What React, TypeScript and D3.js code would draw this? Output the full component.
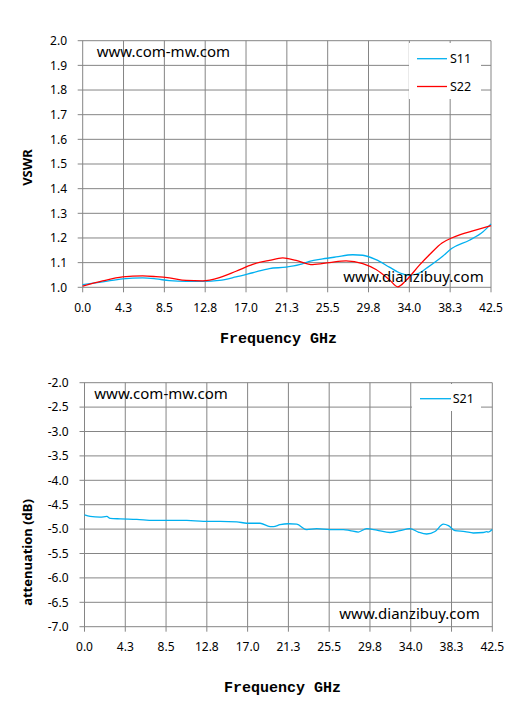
import React from "react";
import * as d3 from "d3";

// ---------- data ----------
const X_TICKS = [0, 4.25, 8.5, 12.75, 17, 21.25, 25.5, 29.75, 34, 38.25, 42.5];
const X_TICK_LABELS = ["0.0", "4.3", "8.5", "12.8", "17.0", "21.3", "25.5", "29.8", "34.0", "38.3", "42.5"];

const VSWR_TICKS = [1.0, 1.1, 1.2, 1.3, 1.4, 1.5, 1.6, 1.7, 1.8, 1.9, 2.0];
const VSWR_TICK_LABELS = ["1.0", "1.1", "1.2", "1.3", "1.4", "1.5", "1.6", "1.7", "1.8", "1.9", "2.0"];

const ATT_TICKS = [-2.0, -2.5, -3.0, -3.5, -4.0, -4.5, -5.0, -5.5, -6.0, -6.5, -7.0];
const ATT_TICK_LABELS = ["-2.0", "-2.5", "-3.0", "-3.5", "-4.0", "-4.5", "-5.0", "-5.5", "-6.0", "-6.5", "-7.0"];

const S11_FREQ = [0, 2.08, 4.16, 6.25, 7.63, 9.02, 10.76, 12.49, 14.23, 15.96, 17.7, 19.43, 21.17, 22.55, 23.59, 24.98, 26.37, 28.11, 29.15, 30.53, 31.92, 32.96, 34.0, 35.05, 35.8, 37.47, 38.4, 40.25, 41.64, 42.5];
const S11_VSWR = [1.011, 1.022, 1.034, 1.038, 1.034, 1.027, 1.024, 1.024, 1.028, 1.042, 1.059, 1.076, 1.082, 1.092, 1.105, 1.115, 1.123, 1.132, 1.13, 1.112, 1.082, 1.059, 1.049, 1.058, 1.078, 1.126, 1.157, 1.191, 1.224, 1.257];

const S22_FREQ = [0, 2.08, 4.16, 6.25, 7.63, 9.02, 10.76, 12.49, 14.23, 15.96, 17.7, 19.43, 20.82, 22.21, 23.94, 25.68, 27.41, 29.15, 30.53, 31.92, 32.8, 33.66, 35.05, 36.09, 37.4, 38.4, 39.3, 40.7, 42.5];
const S22_VSWR = [1.005, 1.026, 1.042, 1.046, 1.043, 1.038, 1.028, 1.026, 1.039, 1.065, 1.093, 1.109, 1.119, 1.109, 1.092, 1.1, 1.107, 1.096, 1.072, 1.031, 1.002, 1.028, 1.09, 1.132, 1.18, 1.2, 1.214, 1.23, 1.25];

const S21_FREQ = [0, 0.59, 1.63, 2.33, 2.67, 3.72, 5.45, 7.19, 8.92, 10.66, 12.4, 14.13, 15.87, 16.91, 18.3, 19.34, 19.69, 20.38, 21.25, 22.12, 23.16, 24.2, 25.59, 26.98, 27.67, 28.54, 29.41, 30.45, 31.84, 32.88, 33.92, 34.79, 35.66, 36.53, 37.4, 37.92, 38.61, 39.65, 40.52, 41.56, 41.91, 42.08, 42.5];
const S21_DB = [-4.71, -4.74, -4.755, -4.74, -4.78, -4.79, -4.8, -4.82, -4.82, -4.82, -4.84, -4.84, -4.85, -4.88, -4.88, -4.95, -4.95, -4.91, -4.89, -4.9, -5.01, -4.99, -5.01, -5.01, -5.03, -5.06, -4.99, -5.02, -5.07, -5.03, -4.99, -5.06, -5.1, -5.05, -4.9, -4.93, -5.03, -5.05, -5.08, -5.07, -5.05, -5.06, -5.01];

// ---------- styles ----------
const GRID = "#858585";
const BLUE = "#00B0F0";
const RED = "#FF0000";
const SANS = "'Noto Sans', sans-serif";
const MONO = "'Liberation Mono', monospace";

type Series = { freq: number[]; vals: number[]; color: string; name: string };

type PanelProps = {
  x0: number; x1: number; yTop: number; yBot: number;
  yDomain: [number, number];
  yTicks: number[]; yLabels: string[];
  series: Series[];
  yTitle: string; yTitleY: number;
  xTitleX: number; xTitleY: number;
  xLabelY: number; yLabelX: number;
  legendBox: { x: number; y: number; w: number; h: number };
  legendItems: { y: number }[];
  legendX0: number; legendX1: number; legendTextX: number;
  wm1: { x: number; y: number }; wm2: { x: number; y: number };
};

function Panel(p: PanelProps) {
  const x = d3.scaleLinear().domain([0, 42.5]).range([p.x0, p.x1]);
  const y = d3.scaleLinear().domain(p.yDomain).range([p.yBot, p.yTop]);
  const line = (s: Series) =>
    d3.line<number>()
      .x((_, i) => x(s.freq[i]))
      .y((v) => y(v))
      .curve(d3.curveMonotoneX)(s.vals) || "";
  return (
    <g>
      {p.yTicks.map((t, i) => (
        <line key={"h" + i} x1={p.x0 - 5} x2={p.x1} y1={y(t)} y2={y(t)} stroke={GRID} strokeWidth={1} />
      ))}
      {X_TICKS.map((t, i) => (
        <line key={"v" + i} x1={x(t)} x2={x(t)} y1={p.yTop} y2={p.yBot + 5} stroke={GRID} strokeWidth={1} />
      ))}
      {p.yTicks.map((t, i) => (
        <text key={"yl" + i} x={p.yLabelX} y={y(t)} dy="0.35em" textAnchor="end" fontFamily={SANS} fontSize={12} fill="#000">
          {p.yLabels[i]}
        </text>
      ))}
      {X_TICKS.map((t, i) => (
        <text key={"xl" + i} x={x(t)} y={p.xLabelY} textAnchor="middle" fontFamily={SANS} fontSize={12} fill="#000">
          {X_TICK_LABELS[i]}
        </text>
      ))}
      {p.series.map((s) => (
        <path key={s.name} d={line(s)} fill="none" stroke={s.color} strokeWidth={1.3} />
      ))}
      <rect x={p.legendBox.x} y={p.legendBox.y} width={p.legendBox.w} height={p.legendBox.h} fill="#fff" />
      {p.series.map((s, i) => (
        <g key={"lg" + s.name}>
          <line x1={p.legendX0} x2={p.legendX1} y1={p.legendItems[i].y} y2={p.legendItems[i].y} stroke={s.color} strokeWidth={1.3} />
          <text x={p.legendTextX} y={p.legendItems[i].y} dy="0.36em" fontFamily={SANS} fontSize={12.5} fill="#000">
            {s.name}
          </text>
        </g>
      ))}
      <text x={p.wm1.x} y={p.wm1.y} fontFamily={SANS} fontSize={15} fill="#000">www.com-mw.com</text>
      <text x={p.wm2.x} y={p.wm2.y} fontFamily={SANS} fontSize={15} fill="#000">www.dianzibuy.com</text>
      <text
        transform={`translate(31.5,${p.yTitleY}) rotate(-90)`}
        textAnchor="middle" fontFamily={SANS} fontWeight="bold" fontSize={13} fill="#000"
      >
        {p.yTitle}
      </text>
      <text x={p.xTitleX} y={p.xTitleY} fontFamily={MONO} fontWeight="bold" fontSize={15} fill="#000" xmlSpace="preserve">
        Frequency GHz
      </text>
    </g>
  );
}

export default function App() {
  return (
    <svg width={526} height={715} style={{ position: "absolute", left: 0, top: 0, background: "#fff" }}>
      <rect x={0} y={0} width={526} height={715} fill="#fff" />
      <Panel
        x0={82.7} x1={491} yTop={40.7} yBot={287.3}
        yDomain={[1.0, 2.0]} yTicks={VSWR_TICKS} yLabels={VSWR_TICK_LABELS}
        series={[
          { freq: S11_FREQ, vals: S11_VSWR, color: BLUE, name: "S11" },
          { freq: S22_FREQ, vals: S22_VSWR, color: RED, name: "S22" },
        ]}
        yTitle="VSWR" yTitleY={167.5}
        xTitleX={220} xTitleY={342.7}
        xLabelY={311.5} yLabelX={67}
        legendBox={{ x: 409, y: 43, w: 72, h: 56 }}
        legendItems={[{ y: 58.7 }, { y: 86.5 }]}
        legendX0={417} legendX1={447} legendTextX={450}
        wm1={{ x: 96.7, y: 57 }} wm2={{ x: 343.3, y: 281.7 }}
      />
      <Panel
        x0={84.5} x1={492.3} yTop={382.7} yBot={626.7}
        yDomain={[-7.0, -2.0]} yTicks={ATT_TICKS} yLabels={ATT_TICK_LABELS}
        series={[{ freq: S21_FREQ, vals: S21_DB, color: BLUE, name: "S21" }]}
        yTitle="attenuation (dB)" yTitleY={552.5}
        xTitleX={224} xTitleY={691.7}
        xLabelY={651} yLabelX={68.5}
        legendBox={{ x: 412, y: 384, w: 69, h: 27 }}
        legendItems={[{ y: 398.7 }]}
        legendX0={420} legendX1={451} legendTextX={452.7}
        wm1={{ x: 94.3, y: 398.7 }} wm2={{ x: 339.3, y: 619.3 }}
      />
    </svg>
  );
}
